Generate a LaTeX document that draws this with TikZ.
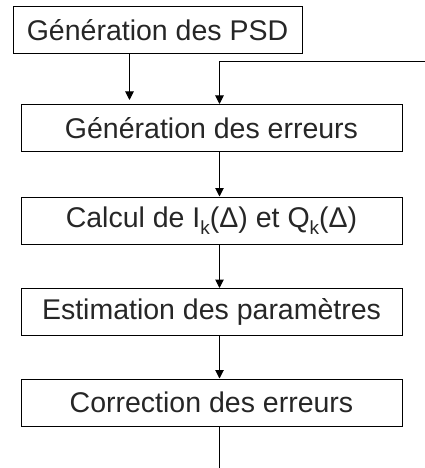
\documentclass[tikz,border=0pt]{standalone}
\usepackage{fontspec}
\setmainfont{Liberation Sans}
\usetikzlibrary{arrows.meta}
\begin{document}
\begin{tikzpicture}[x=1pt,y=-1pt,
  box/.style={draw=black,line width=1pt,rectangle,inner sep=0pt,minimum height=47pt,
    font=\fontsize{28.5}{33}\selectfont,text=black!85},
  wide/.style={box,minimum width=381pt},
  conn/.style={line width=1pt},
  arr/.style={conn,-{Triangle[width=8.5pt,length=8.5pt]}}]
\useasboundingbox (0,0) rectangle (425,468);
\node[box,minimum width=289pt] (b1) at (157.5,30.5) {Génération des PSD};
\node[wide] (b2) at (211.5,128) {Génération des erreurs};
\node[wide] (b3) at (211.5,220.5) {Calcul de I\raisebox{-7.5pt}{\fontsize{19}{19}\selectfont k}(Δ) et Q\raisebox{-7.5pt}{\fontsize{19}{19}\selectfont k}(Δ)};
\node[wide] (b4) at (211.5,312) {Estimation des paramètres};
\node[wide] (b5) at (211.5,402.5) {Correction des erreurs};
\coordinate (sp) at (219.5,0);
\coordinate (lf) at (129.5,0);
\coordinate (fb) at (425,61.5);
\coordinate (lfend) at (129.5,100);
\coordinate (out) at (219.5,468);
\draw[arr] (b1.south -| lf) -- (lfend);
\draw[arr] (fb) -| (b2.north -| sp);
\draw[arr] (b2.south -| sp) -- (b3.north -| sp);
\draw[arr] (b3.south -| sp) -- (b4.north -| sp);
\draw[arr] (b4.south -| sp) -- (b5.north -| sp);
\draw[conn] (b5.south -| sp) -- (out);
\end{tikzpicture}
\end{document}
